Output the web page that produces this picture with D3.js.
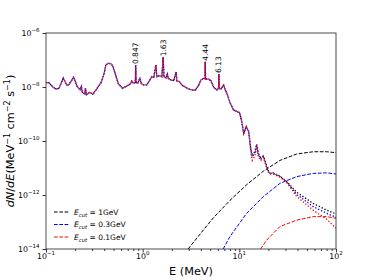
<!DOCTYPE html>
<html>
<head>
<meta charset="utf-8">
<script src="https://cdn.jsdelivr.net/npm/d3@7"></script>
<style>
  body { margin: 0; background: #fff; }
  svg { font-family: "DejaVu Sans", sans-serif; }
</style>
</head>
<body>
<svg id="chart"></svg>
<script>
// line spectrum below ~12 MeV, identical for the three cutoffs (MeV, MeV^-1 cm^-2 s^-1)
const lowEnergy = [0.100, 0.107, 0.118, 0.126, 0.136, 0.151, 0.164, 0.172, 0.193, 0.210,
  0.225, 0.232, 0.238, 0.252, 0.256, 0.262, 0.283, 0.305, 0.330, 0.373,
  0.400, 0.415, 0.440, 0.470, 0.490, 0.520, 0.560, 0.620, 0.680, 0.740,
  0.770, 0.800, 0.840, 0.847, 0.855, 0.890, 0.937, 0.970, 1.02, 1.10,
  1.16, 1.24, 1.30, 1.37, 1.40, 1.50, 1.58, 1.63, 1.66, 1.75,
  1.80, 1.84, 1.95, 2.10, 2.22, 2.26, 2.40, 2.55, 2.75, 3.00,
  3.24, 3.50, 3.80, 4.01, 4.27, 4.42, 4.44, 4.47, 4.82, 5.09,
  5.42, 5.87, 6.10, 6.13, 6.17, 6.46, 6.88, 7.15, 7.44, 8.05,
  8.73, 9.44, 10.07, 10.6, 11.1, 11.8];
const lowFlux = [1.45e-8, 1.45e-8, 1.0e-8, 8.5e-9, 8.9e-9, 2.14e-8, 1.17e-8, 1.2e-8, 2.29e-8, 1.05e-8,
  7.9e-9, 1.05e-8, 6.3e-9, 5.5e-9, 8.9e-9, 5.2e-9, 6.3e-9, 5.4e-9, 7.9e-9, 1.51e-8,
  3.16e-8, 6.3e-8, 7.6e-8, 7.2e-8, 6.0e-8, 3.16e-8, 1.32e-8, 8.9e-9, 1.07e-8, 1.26e-8,
  1.66e-8, 1.38e-8, 1.45e-8, 6.5e-8, 1.45e-8, 1.41e-8, 2.09e-8, 1.32e-8, 1.2e-8, 1.2e-8,
  1.58e-8, 2.4e-8, 2.19e-8, 6.5e-8, 2.4e-8, 2.63e-8, 2.4e-8, 1.26e-7, 2.4e-8, 2.19e-8,
  3.02e-8, 2.09e-8, 1.82e-8, 1.74e-8, 3.55e-8, 1.66e-8, 1.58e-8, 1.17e-8, 1.0e-8, 8.3e-9,
  7.8e-9, 7.6e-9, 1.17e-8, 1.82e-8, 2.09e-8, 2.0e-8, 8.7e-8, 2.0e-8, 1.95e-8, 1.70e-8,
  9.8e-9, 7.8e-9, 8.9e-9, 3.02e-8, 8.9e-9, 8.5e-9, 1.17e-8, 7.8e-9, 5.9e-9, 2.5e-9,
  1.41e-9, 1.23e-9, 1.12e-9, 5.1e-10, 1.9e-10, 3.4e-10];

// above ~12 MeV the three runs separate
const tailEnergy = [12.5, 12.9, 13.2, 13.6, 14.5, 15.1, 15.7, 16.7, 17.7, 18.4,
  19.5, 20.4, 22.4, 26.3, 30.8, 39.2, 58.1, 80, 100];
const tail1GeV = [2.2e-10, 8.9e-11, 5.0e-11, 3.16e-11, 4.0e-11, 7.6e-11, 3.55e-11, 2.4e-11, 2.8e-11, 1.91e-11,
  9.5e-12, 6.6e-12, 6.6e-12, 5.0e-12, 3.2e-12, 1.26e-12, 4.9e-13, 2.75e-13, 2.0e-13];
const tail03GeV = [2.2e-10, 8.3e-11, 4.2e-11, 2.6e-11, 3.55e-11, 7.1e-11, 3.16e-11, 2.2e-11, 2.6e-11, 1.78e-11,
  8.9e-12, 6.3e-12, 6.3e-12, 4.8e-12, 3.1e-12, 1.05e-12, 3.7e-13, 2.1e-13, 1.48e-13];
const tail01GeV = [2.2e-10, 7.6e-11, 3.55e-11, 1.91e-11, 2.8e-11, 6.8e-11, 2.6e-11, 1.91e-11, 2.5e-11, 1.66e-11,
  8.3e-12, 6.0e-12, 6.0e-12, 4.6e-12, 2.95e-12, 8.7e-13, 2.75e-13, 1.26e-13, 5.9e-14];

// broad continuum components (dashed)
const bumpEnergy1GeV = [2.95, 3.92, 5.37, 8.0, 11.9, 17.7, 26.3, 39.2, 58.1, 80, 100];
const bumpFlux1GeV = [1.0e-14, 3.55e-14, 1.41e-13, 6.3e-13, 2.4e-12, 7.6e-12, 1.91e-11, 3.3e-11, 4.0e-11, 4.0e-11, 3.7e-11];
const bumpEnergy03GeV = [6.8, 8.0, 11.9, 17.7, 26.3, 39.2, 58.1, 80, 100];
const bumpFlux03GeV = [1.0e-14, 2.9e-14, 2.1e-13, 8.7e-13, 2.7e-12, 4.8e-12, 6.3e-12, 6.6e-12, 6.0e-12];
const bumpEnergy01GeV = [16.6, 19.1, 26.3, 39.2, 58.1, 80, 100];
const bumpFlux01GeV = [1.0e-14, 2.1e-14, 6.8e-14, 1.17e-13, 1.58e-13, 1.58e-13, 1.38e-13];

const peakEnergy = [0.847, 1.63, 4.44, 6.13];
const peakLabels = ["0.847", "1.63", "4.44", "6.13"];
const cutLabels = ["1GeV", "0.3GeV", "0.1GeV"];
const colors = ["black", "blue", "red"];
const xMajor = [0.1, 1, 10, 100];
const yMajor = [1e-14, 1e-12, 1e-10, 1e-8, 1e-6];

const width = 374, height = 280;
const mLeft = 46, mRight = 336, mTop = 33, mBottom = 249;

const svg = d3.select("#chart").attr("width", width).attr("height", height);

const x = d3.scaleLog().domain([0.1, 100]).range([mLeft, mRight]);
const y = d3.scaleLog().domain([1e-14, 1e-6]).range([mBottom, mTop]);

svg.append("clipPath").attr("id", "plot")
  .append("rect").attr("x", mLeft).attr("y", mTop)
  .attr("width", mRight - mLeft).attr("height", mBottom - mTop);

const toPts = (es, fs) => es.map((e, i) => [e, fs[i]]);
const line = d3.line().x(d => x(d[0])).y(d => y(d[1]));

const plot = svg.append("g").attr("clip-path", "url(#plot)");

// dashed continuum
[[bumpEnergy1GeV, bumpFlux1GeV], [bumpEnergy03GeV, bumpFlux03GeV], [bumpEnergy01GeV, bumpFlux01GeV]]
  .forEach((b, i) => {
    plot.append("path")
      .attr("d", line(toPts(b[0], b[1])))
      .attr("fill", "none").attr("stroke", colors[i])
      .attr("stroke-width", 1).attr("stroke-dasharray", "3.7,1.6");
  });

// dotted total spectra (offset dots so the overlapping runs show through)
const lowPts = toPts(lowEnergy, lowFlux);
[tail1GeV, tail03GeV, tail01GeV].forEach((t, i) => {
  plot.append("path")
    .attr("d", line(lowPts.concat(toPts(tailEnergy, t))))
    .attr("fill", "none").attr("stroke", colors[i])
    .attr("stroke-width", 1.3).attr("stroke-dasharray", "1.3,1.9")
    .attr("stroke-dashoffset", i * 1.6);
});

// axes
const sup = v => String(Math.round(Math.log10(v))).replace("-", "\u2212");

svg.append("g").attr("transform", `translate(0,${mBottom})`)
  .call(d3.axisBottom(x).tickValues(xMajor).tickSize(3.5).tickSizeOuter(0).tickFormat(""));
const xMinor = [];
xMajor.slice(0, -1).forEach(d => { for (let k = 2; k < 10; k++) xMinor.push(d * k); });
svg.append("g").attr("transform", `translate(0,${mBottom})`)
  .call(d3.axisBottom(x).tickValues(xMinor).tickSize(2).tickSizeOuter(0).tickFormat(""));
svg.append("g").attr("transform", `translate(${mLeft},0)`)
  .call(d3.axisLeft(y).tickValues(yMajor).tickSize(3.5).tickSizeOuter(0).tickFormat(""));
svg.selectAll(".domain").remove();
svg.selectAll(".tick line").attr("stroke", "#000").attr("stroke-width", 0.8);

xMajor.forEach(d => {
  const t = svg.append("text").attr("x", x(d)).attr("y", 259)
    .attr("text-anchor", "middle").attr("font-size", 7.8).attr("fill", "#000");
  t.append("tspan").text("10");
  t.append("tspan").attr("dy", -3.6).attr("font-size", 5.5).text(sup(d));
});
yMajor.forEach(d => {
  const t = svg.append("text").attr("x", 39.5).attr("y", y(d) + 2.5)
    .attr("text-anchor", "end").attr("font-size", 7.8).attr("fill", "#000");
  t.append("tspan").text("10");
  t.append("tspan").attr("dy", -3.6).attr("font-size", 5.5).text(sup(d));
});

svg.append("rect").attr("x", mLeft).attr("y", mTop)
  .attr("width", mRight - mLeft).attr("height", mBottom - mTop)
  .attr("fill", "none").attr("stroke", "#222").attr("stroke-width", 0.8);

// axis labels
svg.append("text").attr("x", (mLeft + mRight) / 2).attr("y", 275)
  .attr("text-anchor", "middle").attr("font-size", 11.3).text("E (MeV)");

const yl = svg.append("text")
  .attr("transform", `translate(14,${(mTop + mBottom) / 2}) rotate(-90)`)
  .attr("text-anchor", "middle").attr("font-size", 11.3);
yl.append("tspan").attr("font-style", "italic").text("dN");
yl.append("tspan").text("/");
yl.append("tspan").attr("font-style", "italic").text("dE");
yl.append("tspan").text("(MeV");
yl.append("tspan").attr("dy", -4.5).attr("font-size", 8).text("\u22121");
yl.append("tspan").attr("dy", 4.5).text(" cm");
yl.append("tspan").attr("dy", -4.5).attr("font-size", 8).text("\u22122");
yl.append("tspan").attr("dy", 4.5).text(" s");
yl.append("tspan").attr("dy", -4.5).attr("font-size", 8).text("\u22121");
yl.append("tspan").attr("dy", 4.5).text(")");

// line annotations
peakEnergy.forEach((e, i) => {
  const f = lowFlux[lowEnergy.indexOf(e)];
  svg.append("text")
    .attr("transform", `translate(${x(e)},${y(f) - 1}) rotate(-90)`)
    .attr("dominant-baseline", "central")
    .attr("font-size", 7.5).text(peakLabels[i]);
});

// legend
const leg = svg.append("g");
cutLabels.forEach((lab, i) => {
  const ly = 212 + i * 12.5;
  leg.append("line").attr("x1", 54).attr("x2", 69).attr("y1", ly).attr("y2", ly)
    .attr("stroke", colors[i]).attr("stroke-width", 1).attr("stroke-dasharray", "3.7,1.6");
  const t = leg.append("text").attr("x", 74).attr("y", ly + 2.7).attr("font-size", 7.5);
  t.append("tspan").attr("font-style", "italic").text("E");
  t.append("tspan").attr("dy", 1.8).attr("font-size", 5.3).attr("font-style", "italic").text("cut");
  t.append("tspan").attr("dy", -1.8).text(" = " + lab);
});
</script>
</body>
</html>
